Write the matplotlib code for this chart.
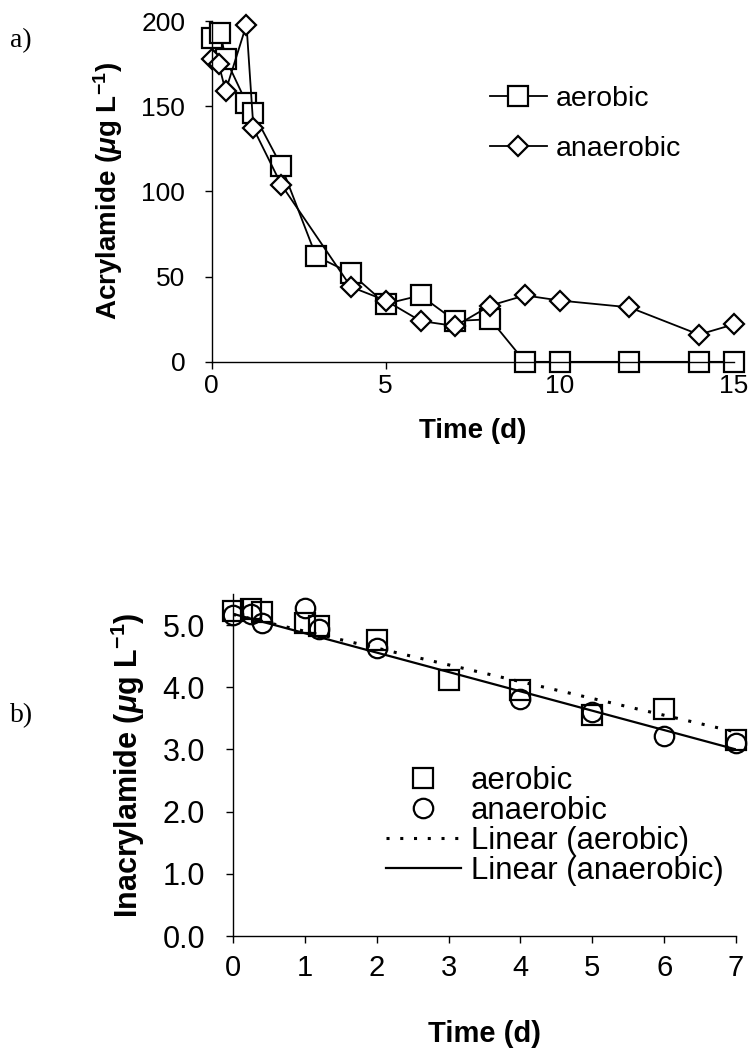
import numpy as np
import matplotlib
matplotlib.use('Agg')
import matplotlib.pyplot as plt
from matplotlib.ticker import MultipleLocator, FormatStrFormatter

plt.rcParams['font.family'] = ['Liberation Sans', 'DejaVu Sans']
plt.rcParams['mathtext.fontset'] = 'custom'
plt.rcParams['mathtext.rm'] = 'Liberation Sans:bold'
plt.rcParams['mathtext.it'] = 'Liberation Sans:italic:bold'
plt.rcParams['mathtext.bf'] = 'Liberation Sans:bold'

# panel a: acrylamide (ug/L) over time (d)
t_aer_a = [0, 0.25, 0.4, 1, 1.2, 2, 3, 4, 5, 6, 7, 8, 9, 10, 12, 14, 15]
acr_aer = [190, 193, 178, 152, 146, 115, 62, 52, 34, 39, 24, 25, 0, 0, 0, 0, 0]
t_ana_a = [0, 0.2, 0.4, 1, 1.2, 2, 4, 5, 6, 7, 8, 9, 10, 12, 14, 15]
acr_ana = [178, 175, 159, 198, 137, 104, 44, 36, 24, 21, 33, 39, 36, 32, 16, 22]

# panel b: inacrylamide over time (d)
t_aer_b = [0, 0.25, 0.4, 1, 1.2, 2, 3, 4, 5, 6, 7]
ina_aer = [5.23, 5.26, 5.21, 5.04, 4.98, 4.76, 4.12, 3.95, 3.55, 3.65, 3.15]
t_ana_b = [0, 0.25, 0.4, 1, 1.2, 2, 4, 5, 6, 7]
ina_ana = [5.16, 5.18, 5.04, 5.28, 4.94, 4.63, 3.81, 3.60, 3.22, 3.10]

# trend lines as drawn in the source (end points)
trend_t = [0, 7]
trend_aer = [5.17, 3.28]
trend_ana = [5.18, 3.00]

fig = plt.figure(figsize=(7.48, 10.58), dpi=100)

ax_a = fig.add_axes([0.283, 0.658, 0.698, 0.322])
ax_b = fig.add_axes([0.3115, 0.1153, 0.6725, 0.3233])

for ax in (ax_a, ax_b):
    ax.spines['top'].set_visible(False)
    ax.spines['right'].set_visible(False)
    ax.spines['left'].set_linewidth(1.0)
    ax.spines['bottom'].set_linewidth(1.0)
    ax.tick_params(direction='out', length=5, width=1.0)

# panel a
ax_a.plot(t_aer_a, acr_aer, color='black', lw=1.3, marker='s', ms=14,
          mfc='white', mec='black', mew=1.6, clip_on=False, label='aerobic')
ax_a.plot(t_ana_a, acr_ana, color='black', lw=1.3, marker='D', ms=10.5,
          mfc='white', mec='black', mew=1.6, clip_on=False, label='anaerobic')
ax_a.set_xlim(0, 15)
ax_a.set_ylim(0, 200)
ax_a.xaxis.set_major_locator(MultipleLocator(5))
ax_a.yaxis.set_major_locator(MultipleLocator(50))
ax_a.tick_params(axis='y', labelsize=19, pad=14)
ax_a.tick_params(axis='x', labelsize=19, pad=4)
ax_a.set_xlabel('Time (d)', fontsize=20, fontweight='bold', labelpad=14)
ax_a.set_ylabel(r'Acrylamide ($\mu$g L$^{-1}$)', fontsize=20, fontweight='bold', labelpad=12)
ax_a.legend(loc='upper left', bbox_to_anchor=(0.533, 0.81), frameon=False,
            fontsize=20.5, handlelength=2.0, handletextpad=0.3, labelspacing=0.85,
            borderaxespad=0, borderpad=0)

# panel b
ax_b.plot(t_aer_b, ina_aer, ls='none', marker='s', ms=14, mfc='none',
          mec='black', mew=1.6, clip_on=False, label='aerobic')
ax_b.plot(t_ana_b, ina_ana, ls='none', marker='o', ms=14, mfc='none',
          mec='black', mew=1.6, clip_on=False, label='anaerobic')
ax_b.plot(trend_t, trend_aer, color='black', lw=2.2, ls=(0, (1, 3.5)),
          label='Linear (aerobic)')
ax_b.plot(trend_t, trend_ana, color='black', lw=1.6, ls='-',
          label='Linear (anaerobic)')
ax_b.set_xlim(0, 7)
ax_b.set_ylim(0, 5.5)
ax_b.xaxis.set_major_locator(MultipleLocator(1))
ax_b.yaxis.set_major_locator(MultipleLocator(1))
ax_b.yaxis.set_major_formatter(FormatStrFormatter('%.1f'))
ax_b.tick_params(axis='y', labelsize=22, pad=15)
ax_b.tick_params(axis='x', labelsize=21, pad=8)
ax_b.set_xlabel('Time (d)', fontsize=21, fontweight='bold', labelpad=27)
ax_b.set_ylabel(r'Inacrylamide ($\mu$g L$^{-1}$)', fontsize=22, fontweight='bold', labelpad=11)
ax_b.legend(loc='upper left', bbox_to_anchor=(0.304, 0.497), frameon=False,
            fontsize=22.4, handlelength=2.4, handletextpad=0.32, labelspacing=0.0,
            borderaxespad=0, borderpad=0)

fig.text(0.013, 0.962, 'a)', fontsize=20, family='Liberation Serif', va='center')
fig.text(0.013, 0.324, 'b)', fontsize=20, family='Liberation Serif', va='center')

fig.savefig('out.png', dpi=100)
